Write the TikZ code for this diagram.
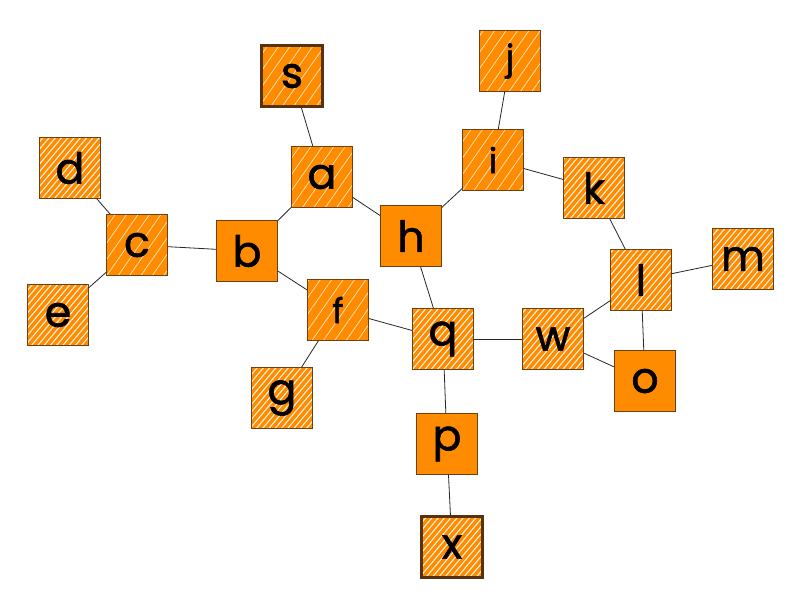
\documentclass[tikz,border=0pt]{standalone}
\usepackage{fontspec}
\setmainfont{Poppins}
\newfontfamily\labelfont{Poppins}[FakeBold=1.4]
\usetikzlibrary{patterns.meta}
\definecolor{boxorange}{HTML}{FF8C00}
\definecolor{boxbrown}{HTML}{6B4012}
\tikzset{
  box/.style={draw=boxbrown, line width=0.7pt, fill=boxorange,
    minimum size=45.5pt, inner sep=0pt, font=\fontsize{32}{32}\labelfont},
  plain/.style={box},
  light/.style={box, preaction={fill=boxorange}, pattern={Lines[angle=55,distance=7pt,line width=0.5pt]}, pattern color=white!80!boxorange},
  dense/.style={box, preaction={fill=boxorange}, pattern={Lines[angle=50,distance=3.6pt,line width=0.8pt]}, pattern color=white!90!boxorange},
  heavy/.style={line width=2.2pt, draw=boxbrown!80!black},
  small/.style={font=\fontsize{26}{26}\labelfont},
  link/.style={draw=black!85, line width=0.6pt}
}
\begin{document}
\begin{tikzpicture}[x=0.75pt, y=-0.75pt]
  \useasboundingbox (0,0) rectangle (804,607);

  % Knoten
  \node[light, heavy] (s) at (292,76) {s};
  \node[light] (a) at (322,177) {a};
  \node[dense] (d) at (70,168) {d};
  \node[light] (c) at (137,245) {c};
  \node[dense] (e) at (58,315) {e};
  \node[plain] (b) at (247,251) {b};
  \node[light, small] (f) at (338,310) {f};
  \node[dense] (g) at (282,398) {g};
  \node[plain] (h) at (411,236) {h};
  \node[light, small] (j) at (510,61) {j};
  \node[light, small] (i) at (493,160) {i};
  \node[dense] (k) at (594,188) {k};
  \node[dense] (l) at (641,280) {l};
  \node[dense] (m) at (743,259) {m};
  \node[plain] (o) at (645,381) {o};
  \node[dense] (w) at (553,339) {w};
  \node[dense] (q) at (443,339) {q};
  \node[plain] (p) at (447,444) {p};
  \node[dense, heavy] (x) at (452,547) {x};

  % Kanten
  \draw[link] (s) -- (a);
  \draw[link] (a) -- (b);
  \draw[link] (a) -- (h);
  \draw[link] (d) -- (c);
  \draw[link] (c) -- (e);
  \draw[link] (c) -- (b);
  \draw[link] (b) -- (f);
  \draw[link] (f) -- (g);
  \draw[link] (f) -- (q);
  \draw[link] (h) -- (q);
  \draw[link] (h) -- (i);
  \draw[link] (i) -- (j);
  \draw[link] (i) -- (k);
  \draw[link] (k) -- (l);
  \draw[link] (l) -- (m);
  \draw[link] (l) -- (w);
  \draw[link] (l) -- (o);
  \draw[link] (w) -- (o);
  \draw[link] (q) -- (w);
  \draw[link] (q) -- (p);
  \draw[link] (p) -- (x);
\end{tikzpicture}
\end{document}
